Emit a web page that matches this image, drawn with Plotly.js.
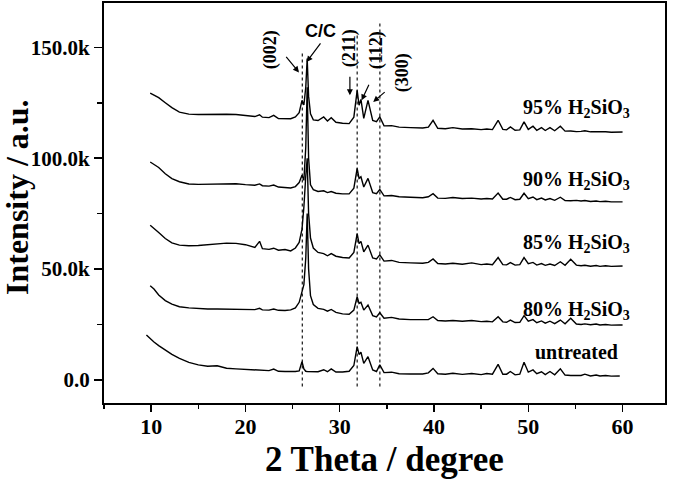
<!DOCTYPE html>
<html>
<head>
<meta charset="utf-8">
<script src="https://cdn.plot.ly/plotly-3.0.1.min.js"></script>
<style>html,body{margin:0;padding:0;background:#fff;}#chart{width:675px;height:482px;}</style>
</head>
<body>
<div id="chart"></div>
<script>
// 2 Theta grid (degree), shared by all patterns
var twoTheta = [9.5, 9.9, 10.3, 10.8, 11.5, 12.2, 13, 14, 15, 16, 17, 18, 19, 20, 21, 21.5, 21.8, 22.5, 23, 23.5, 24.2, 24.8, 25.3, 25.7, 26.0, 26.2, 26.4, 26.55, 26.7, 26.9, 27.2, 27.7, 28.3, 28.7, 29.1, 29.6, 30.3, 31.0, 31.5, 31.85, 32.05, 32.25, 32.55, 33.0, 33.5, 33.9, 34.25, 34.7, 35.5, 36.3, 37.5, 38.8, 39.4, 39.9, 40.4, 41.2, 42.0, 43.0, 44.0, 45.0, 45.6, 46.2, 46.8, 47.3, 47.7, 48.1, 48.6, 49.1, 49.55, 50.0, 50.5, 50.9, 51.4, 51.8, 52.3, 52.8, 53.4, 53.9, 54.5, 55.1, 55.6, 56.0, 56.6, 57.2, 57.6, 58.2, 58.8, 59.7, 60.0];

// Intensities (thousands of counts, stacked as plotted)
var untreated = [20.3, 18.5, 17.1, 15.5, 13.5, 11.5, 9.7, 7.9, 6.8, 6.2, 6.4, 5.3, 5.0, 4.7, 4.5, 4.4, 4.4, 4.2, 4.9, 3.9, 3.8, 3.7, 3.8, 4.1, 8.2, 5.0, 3.9, 3.8, 3.8, 3.8, 3.7, 3.7, 4.6, 3.7, 5.0, 3.6, 3.6, 3.9, 6.5, 15.0, 11.5, 12.5, 7.5, 10.5, 4.5, 3.8, 6.8, 3.3, 3.5, 2.8, 2.7, 2.7, 3.2, 5.2, 2.8, 2.6, 3.0, 2.5, 2.9, 2.4, 2.9, 2.6, 7.0, 2.6, 2.6, 3.8, 2.3, 2.6, 8.0, 3.5, 4.5, 2.8, 3.7, 2.4, 3.8, 2.3, 5.0, 2.2, 2.0, 1.9, 2.0, 2.6, 1.8, 2.2, 1.8, 2.0, 1.7, 1.8, null];
var acid80 = [null, 42.5, 41.0, 38.3, 35.8, 34.2, 33.0, 32.5, 32.2, 32.0, 32.0, 32.0, 31.9, 31.8, 31.7, 32.3, 31.6, 31.5, 32.0, 31.4, 31.3, 31.6, 32.5, 35.0, 40.0, 43.0, 55.0, 75.0, 50.0, 38.0, 34.0, 32.3, 31.8, 31.0, 31.8, 30.5, 29.8, 29.6, 31.5, 37.5, 34.5, 35.0, 31.5, 33.8, 29.0, 28.4, 30.3, 27.8, 28.2, 27.5, 27.2, 27.0, 27.2, 28.5, 26.8, 26.6, 26.8, 26.5, 26.8, 26.3, 26.5, 26.2, 28.5, 26.2, 26.0, 27.0, 25.9, 26.0, 29.0, 26.5, 27.2, 25.8, 26.6, 25.6, 26.5, 25.4, 27.0, 25.3, 27.8, 25.2, 25.0, 25.3, 24.9, 25.2, 24.8, 25.0, 24.7, 24.8, 24.8];
var acid85 = [null, 69.8, 68.5, 66.5, 63.8, 61.8, 60.8, 60.5, 60.6, 61.0, 61.5, 61.7, 61.6, 61.0, 59.8, 62.5, 59.2, 58.9, 59.4, 58.5, 58.8, 58.2, 59.5, 62.0, 68.0, 78.0, 92.0, 100.0, 75.0, 64.0, 59.5, 57.5, 57.0, 56.0, 57.0, 55.8, 55.2, 55.0, 57.5, 66.0, 61.5, 62.5, 57.8, 60.8, 55.0, 54.6, 56.4, 53.6, 53.9, 53.0, 52.8, 52.6, 53.0, 54.6, 52.5, 52.3, 52.6, 52.2, 52.8, 52.0, 52.3, 52.0, 55.2, 52.0, 51.9, 52.9, 51.8, 52.0, 55.2, 52.4, 53.0, 51.8, 52.5, 51.7, 52.3, 51.6, 53.3, 51.7, 54.4, 51.8, 51.5, 51.7, 51.3, 51.6, 51.2, 51.5, 51.2, 51.4, 51.4];
var acid90 = [null, 98.3, 97.3, 95.8, 93.0, 90.8, 89.4, 88.4, 88.2, 88.3, 88.4, 88.6, 88.5, 88.1, 87.8, 88.4, 87.6, 87.4, 87.9, 87.0, 86.8, 86.6, 87.2, 89.0, 92.3, 90.0, 105.0, 132.0, 100.0, 88.0, 85.8, 85.0, 85.3, 84.5, 85.0, 84.2, 83.9, 83.9, 86.5, 95.4, 90.9, 91.6, 87.0, 90.9, 84.5, 84.0, 85.9, 83.0, 83.2, 82.6, 82.4, 82.2, 82.6, 84.0, 82.0, 81.9, 82.3, 81.8, 82.0, 81.6, 81.8, 81.6, 84.3, 81.5, 81.5, 82.3, 81.3, 81.5, 84.2, 81.8, 82.5, 81.3, 82.0, 81.2, 81.8, 81.0, 82.4, 80.9, 80.8, 81.0, 80.7, 80.9, 80.5, 80.7, 80.4, 80.6, 80.3, 80.3, 80.3];
var acid95 = [null, 129.4, 128.5, 127.3, 125.0, 122.8, 120.8, 119.9, 119.7, 119.8, 119.9, 119.8, 119.7, 119.3, 118.8, 119.6, 118.5, 118.3, 119.3, 117.9, 117.7, 117.8, 118.6, 120.5, 126.1, 124.0, 132.0, 145.0, 128.0, 120.0, 117.3, 117.0, 118.6, 116.8, 118.3, 116.2, 115.8, 115.6, 118.5, 130.6, 123.9, 126.5, 118.0, 126.1, 117.0, 116.5, 118.6, 114.6, 114.7, 114.0, 113.8, 113.6, 114.0, 117.1, 113.5, 113.3, 113.8, 113.2, 113.3, 112.9, 113.2, 112.9, 117.1, 113.0, 112.8, 114.1, 112.6, 112.8, 116.4, 113.0, 114.4, 112.6, 113.8, 112.5, 113.8, 112.4, 114.4, 112.2, 112.3, 112.0, 112.1, 112.4, 111.9, 112.0, 111.8, 111.9, 111.7, 111.8, 111.8];

// Dotted reference lines at reflections (002), (211), (300)
var refX = [26.03, 31.85, 34.26];
var refTop = [148.6, 156.5, 161.5];
var refBottom = -3;

// Axis ticks
var yTickVals = [0, 50, 100, 150];
var yTickText = ['0.0', '50.0k', '100.0k', '150.0k'];
var yMinorVals = [25, 75, 125];

// Series labels
var seriesLabels = ['95% H<sub>2</sub>SiO<sub>3</sub>', '90% H<sub>2</sub>SiO<sub>3</sub>', '85% H<sub>2</sub>SiO<sub>3</sub>', '80% H<sub>2</sub>SiO<sub>3</sub>', 'untreated'];
var seriesLabelX = [60.95, 60.95, 60.95, 61.05, 59.68];
var seriesLabelY = [122.5, 90.0, 61.7, 31.5, 12.6];

// Peak labels
var peakText = ['(002)', '(211)', '(112)', '(300)'];
var peakLabelX = [22.6, 31.08, 33.94, 36.7];
var peakLabelY = [149.1, 149.5, 148.6, 138.7];
var arrowX = [25.68, 26.49, 31.08, 32.32, 33.55];
var arrowY = [138.7, 143.4, 128.4, 126.1, 125.4];
var arrowAx = [-14, 15, 0, 8, 13];
var arrowAy = [-17, -20, -20, -17, -11];

var serif = 'Liberation Serif, Times New Roman, serif';
var lineStyle = {color: '#000', width: 1.4};
var series = [untreated, acid80, acid85, acid90, acid95];
var traces = series.map(function (ys) {
  return {x: twoTheta, y: ys, type: 'scatter', mode: 'lines', line: lineStyle, hoverinfo: 'skip', connectgaps: false};
});

var shapes = refX.map(function (xv, i) {
  return {type: 'line', xref: 'x', yref: 'y', x0: xv, x1: xv, y0: refBottom, y1: refTop[i],
          line: {color: '#000', width: 1.1, dash: 'dot'}};
});

var annotations = [];
seriesLabels.forEach(function (t, i) {
  annotations.push({x: seriesLabelX[i], y: seriesLabelY[i], xref: 'x', yref: 'y', text: t, showarrow: false,
    xanchor: 'right', yanchor: 'middle', font: {family: serif, size: 20, color: '#000', weight: 'bold'}});
});
peakText.forEach(function (t, i) {
  annotations.push({x: peakLabelX[i], y: peakLabelY[i], xref: 'x', yref: 'y', text: t, showarrow: false,
    textangle: -90, xanchor: 'center', yanchor: 'middle', font: {family: serif, size: 18, color: '#000', weight: 'bold'}});
});
annotations.push({x: 28.0, y: 157.2, xref: 'x', yref: 'y', text: 'C/C', showarrow: false, xanchor: 'center', yanchor: 'middle',
  font: {family: 'Liberation Sans, Arial, sans-serif', size: 18, color: '#000', weight: 'bold'}});
arrowX.forEach(function (xv, i) {
  annotations.push({x: xv, y: arrowY[i], xref: 'x', yref: 'y', text: '', showarrow: true, ax: arrowAx[i], ay: arrowAy[i],
    arrowhead: 2, arrowsize: 1, arrowwidth: 1.2, arrowcolor: '#000', standoff: 0});
});
// Axis titles
annotations.push({x: 0.5, y: 0, xref: 'paper', yref: 'paper', text: '2 Theta / degree', showarrow: false,
  xanchor: 'center', yanchor: 'bottom', yshift: -78, font: {family: serif, size: 35, color: '#000', weight: 'bold'}});
annotations.push({x: 0, y: 0.515, xref: 'paper', yref: 'paper', text: 'Intensity / a.u.', showarrow: false, textangle: -90,
  xanchor: 'center', yanchor: 'middle', xshift: -87, font: {family: serif, size: 32, color: '#000', weight: 'bold'}});

var layout = {
  width: 675, height: 482,
  margin: {l: 104, r: 10, t: 3, b: 79},
  paper_bgcolor: '#fff', plot_bgcolor: '#fff',
  showlegend: false,
  xaxis: {range: [5, 64.5], tick0: 0, dtick: 10, ticks: 'outside', ticklen: 7, tickwidth: 1.5, tickcolor: '#000',
    ticklabelstandoff: -4,
    showline: true, linewidth: 2, linecolor: '#000', mirror: true, showgrid: false, zeroline: false,
    tickfont: {family: serif, size: 22, color: '#000', weight: 'bold'},
    minor: {tick0: 0, dtick: 5, ticks: 'outside', ticklen: 4, tickwidth: 1.5, tickcolor: '#000', showgrid: false}},
  yaxis: {range: [-10.4, 170], tickmode: 'array', tickvals: yTickVals, ticktext: yTickText, ticks: 'outside', ticklen: 8,
    tickwidth: 1.5, tickcolor: '#000', showline: true, linewidth: 2, linecolor: '#000', mirror: true, showgrid: false, zeroline: false,
    tickfont: {family: serif, size: 21, color: '#000', weight: 'bold'},
    minor: {tickmode: 'array', tickvals: yMinorVals, ticks: 'outside', ticklen: 5, tickwidth: 1.5, tickcolor: '#000', showgrid: false}},
  shapes: shapes,
  annotations: annotations
};

Plotly.newPlot('chart', traces, layout, {displayModeBar: false, staticPlot: true});
</script>
</body>
</html>
